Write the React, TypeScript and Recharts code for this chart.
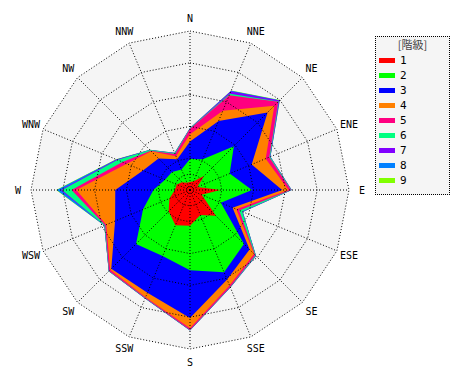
import React from "react";
import {
  RadarChart,
  Radar,
  PolarGrid,
  PolarAngleAxis,
  PolarRadiusAxis,
  Legend,
} from "recharts";

const directions = [
  "N", "NNE", "NE", "ENE", "E", "ESE", "SE", "SSE",
  "S", "SSW", "SW", "WSW", "W", "WNW", "NW", "NNW",
];

// frequency (%) per wind class, N -> NNW clockwise
const class1 = [0.5, 0.6, 1.25, 0.5, 1.9, 0.8, 2.3, 1.7, 2.25, 2.4, 1.9, 1.4, 0.95, 0.9, 0.7, 0.5];
const class2 = [1.45, 1.5, 2.65, 2.2, 2.0, 1.3, 2.5, 3.9, 2.8, 2.1, 2.9, 1.8, 1.35, 0.8, 0.9, 0.9];
const class3 = [1.1, 2.6, 3.0, 1.5, 1.9, 0.8, 0.5, 0.5, 3.0, 2.5, 2.2, 1.9, 2.4, 1.5, 1.2, 0.7];
const class4 = [0.45, 0.7, 0.6, 0.95, 0.4, 0.25, 0.4, 0.4, 0.65, 0.3, 0.1, 0.6, 2.45, 1.1, 0.65, 0.2];
const class5 = [0.35, 1.05, 0.35, 0.25, 0.15, 0.2, 0.1, 0.1, 0.1, 0.05, 0.1, 0.08, 0.3, 0.3, 0.05, 0.15];
const class6 = [0.03, 0.1, 0.03, 0.05, 0.03, 0.2, 0.05, 0.02, 0.02, 0.02, 0.02, 0.04, 0.6, 0.35, 0.05, 0.05];
const class7 = [0.02, 0.17, 0.07, 0.02, 0.02, 0.03, 0.02, 0.01, 0.01, 0.01, 0.01, 0.01, 0.1, 0.05, 0.01, 0.02];
const class8 = [0, 0.04, 0.03, 0.01, 0, 0.02, 0.01, 0.01, 0.01, 0, 0, 0.01, 0.23, 0.03, 0.01, 0.01];
const class9 = [0, 0.02, 0.02, 0, 0, 0, 0, 0, 0, 0, 0, 0, 0.04, 0.01, 0, 0];

const classNames = ["1", "2", "3", "4", "5", "6", "7", "8", "9"];
const classColors = [
  "#ff0000", "#00ff00", "#0000ff", "#ff8000", "#ff0080",
  "#00ff80", "#8000ff", "#0080ff", "#80ff00",
];
const classValues = [class1, class2, class3, class4, class5, class6, class7, class8, class9];

const radiusTicks = [0, 2, 4, 6, 8, 10];
const gridRings = [1, 2, 4, 6, 8, 10];

const CX = 190;
const CY = 190;
const R = 159;
const MAX = 10;
const W = 470;
const H = 380;
const FONT = "'DejaVu Sans Mono', monospace";

// stacked (cumulative) values for each class
const rows = directions.map((dir, i) => {
  const row: any = { dir };
  let sum = 0;
  classValues.forEach((vals, k) => {
    sum += vals[i];
    row[`c${k + 1}`] = +sum.toFixed(3);
  });
  return row;
});

const renderAngleTick = (props: any) => {
  const { payload } = props;
  const rad = (-payload.coordinate * Math.PI) / 180;
  const x = CX + 172 * Math.cos(rad);
  const y = CY + 172 * Math.sin(rad);
  return (
    <text
      x={x}
      y={y}
      textAnchor="middle"
      dominantBaseline="central"
      fontSize={10}
      fontFamily={FONT}
      fill="#000"
    >
      {payload.value}
    </text>
  );
};

const renderRadiusTick = (props: any) => {
  const { x, y, payload } = props;
  return (
    <text x={x + 5} y={y - 1} fontSize={8} fontFamily={FONT} fill="#000">
      {payload.value}
      {payload.value === MAX ? (
        <tspan fontSize={10} dx={6}>
          (%)
        </tspan>
      ) : null}
    </text>
  );
};

const renderLegend = (props: any) => {
  const items = (props.payload || [])
    .filter((p: any) => classNames.includes(p.value))
    .sort((a: any, b: any) => Number(a.value) - Number(b.value));
  return (
    <div
      style={{
        position: "relative",
        width: 75,
        height: 159,
        boxSizing: "border-box",
        border: "1px dotted #000",
        background: "#f5f5f5",
      }}
    >
      <div
        style={{
          position: "absolute",
          top: 1,
          left: 0,
          width: "100%",
          textAlign: "center",
          fontFamily: "'Noto Sans CJK JP', sans-serif",
          fontSize: 11,
          lineHeight: "13px",
          color: "#444",
        }}
      >
        [階級]
      </div>
      {items.map((item: any, i: number) => (
        <div
          key={item.value}
          style={{
            position: "absolute",
            top: 16 + i * 15,
            left: 3,
            height: 15,
            display: "flex",
            alignItems: "center",
          }}
        >
          <span
            style={{
              display: "inline-block",
              width: 16,
              height: 5,
              background: item.color,
              marginRight: 5,
            }}
          />
          <span style={{ fontFamily: FONT, fontSize: 11, color: "#000" }}>
            {item.value}
          </span>
        </div>
      ))}
    </div>
  );
};

export default function App() {
  return (
    <div
      style={{
        position: "absolute",
        left: 0,
        top: 0,
        width: W,
        height: H,
        background: "#fff",
      }}
    >
      {/* areas */}
      <div style={{ position: "absolute", left: 0, top: 0 }}>
        <RadarChart
          width={W}
          height={H}
          cx={CX}
          cy={CY}
          outerRadius={R}
          data={rows}
          margin={{ top: 0, right: 0, bottom: 0, left: 0 }}
        >
          <PolarAngleAxis dataKey="dir" tick={false} axisLine={false} tickLine={false} />
          <PolarRadiusAxis domain={[0, MAX]} tick={false} axisLine={false} />
          {/* plot background */}
          <Radar
            dataKey={() => MAX}
            fill="#f5f5f5"
            fillOpacity={1}
            stroke="none"
            legendType="none"
            isAnimationActive={false}
          />
          {/* stacked classes, outermost first */}
          {classNames
            .map((name, k) => (
              <Radar
                key={name}
                name={name}
                dataKey={`c${k + 1}`}
                fill={classColors[k]}
                fillOpacity={1}
                stroke="none"
                dot={false}
                isAnimationActive={false}
              />
            ))
            .reverse()}
          <Legend
            layout="vertical"
            align="right"
            verticalAlign="top"
            wrapperStyle={{ left: 375, top: 36, width: 75, height: 159 }}
            content={renderLegend}
          />
        </RadarChart>
      </div>
      {/* grid and axes on top of the areas */}
      <div style={{ position: "absolute", left: 0, top: 0, pointerEvents: "none" }}>
        <RadarChart
          width={W}
          height={H}
          cx={CX}
          cy={CY}
          outerRadius={R}
          data={rows}
          margin={{ top: 0, right: 0, bottom: 0, left: 0 }}
        >
          <PolarGrid
            gridType="polygon"
            polarRadius={gridRings.map((v) => (v / MAX) * R)}
            stroke="#000"
            strokeDasharray="1 2"
          />
          <PolarAngleAxis
            dataKey="dir"
            tick={renderAngleTick}
            tickLine={false}
            axisLine={false}
          />
          <PolarRadiusAxis
            angle={90}
            domain={[0, MAX]}
            tickCount={radiusTicks.length}
            tick={renderRadiusTick}
            axisLine={false}
            tickLine={false}
          />
        </RadarChart>
      </div>
    </div>
  );
}
